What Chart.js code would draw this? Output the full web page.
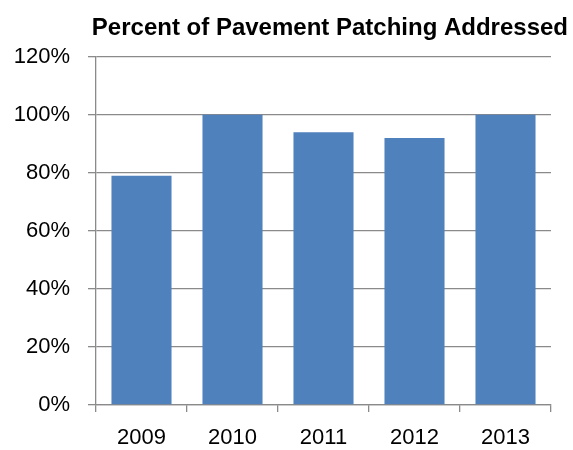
<!DOCTYPE html>
<html>
<head>
<meta charset="utf-8">
<script src="https://cdn.jsdelivr.net/npm/chart.js@4"></script>
<style>
  html, body { margin: 0; padding: 0; background: #fff; }
  #wrap { width: 573px; height: 450px; }
</style>
</head>
<body>
<div id="wrap"><canvas id="myChart"></canvas></div>
<script>
// chart data
const years = ["2009", "2010", "2011", "2012", "2013"];
const percentAddressed = [79, 100, 94, 92, 100];
const yTicks = [0, 20, 40, 60, 80, 100, 120];

const gridColor = "#8a8a8a";

const ctx = document.getElementById("myChart").getContext("2d");
new Chart(ctx, {
  type: "bar",
  data: {
    labels: years,
    datasets: [
      {
        label: "Percent Addressed",
        data: percentAddressed,
        backgroundColor: "#4f81bd",
        barPercentage: 0.66,
        categoryPercentage: 1,
      },
    ],
  },
  options: {
    responsive: true,
    maintainAspectRatio: false,
    animation: false,
    layout: { padding: { left: 0, right: 5, top: 0, bottom: 0 } },
    plugins: {
      legend: { display: false },
      tooltip: { enabled: false },
      title: {
        display: true,
        text: "Percent of Pavement Patching Addressed",
        align: "end",
        color: "#000",
        font: { family: "'Liberation Sans Narrow', 'Liberation Sans', Arial", size: 24, weight: "bold" },
        padding: { top: 14, bottom: 14 },
      },
    },
    scales: {
      x: {
        grid: {
          drawOnChartArea: false,
          drawTicks: true,
          tickLength: 7,
          color: gridColor,
          lineWidth: 1.3,
        },
        border: { display: true, color: gridColor, width: 1.3 },
        ticks: {
          color: "#000",
          font: { family: "'Liberation Sans', Arial", size: 22 },
          padding: 13,
        },
        afterFit: (scale) => {
          scale.height = 45;
        },
      },
      y: {
        min: 0,
        max: 120,
        afterBuildTicks: (scale) => {
          scale.ticks = yTicks.map((v) => ({ value: v }));
        },
        grid: {
          color: gridColor,
          lineWidth: 1.3,
          tickLength: 8,
        },
        border: { display: true, color: gridColor, width: 1.3 },
        ticks: {
          color: "#000",
          font: { family: "'Liberation Sans', Arial", size: 22 },
          padding: 18,
          callback: (v) => v + "%",
        },
        afterFit: (scale) => {
          scale.width = 96;
        },
      },
      // empty right-hand spacer so the plot ends before the title does
      spacer: {
        type: "linear",
        position: "right",
        grid: { display: false },
        border: { display: false },
        ticks: { display: false },
        afterFit: (scale) => {
          scale.width = 17;
        },
      },
    },
  },
});
</script>
</body>
</html>
